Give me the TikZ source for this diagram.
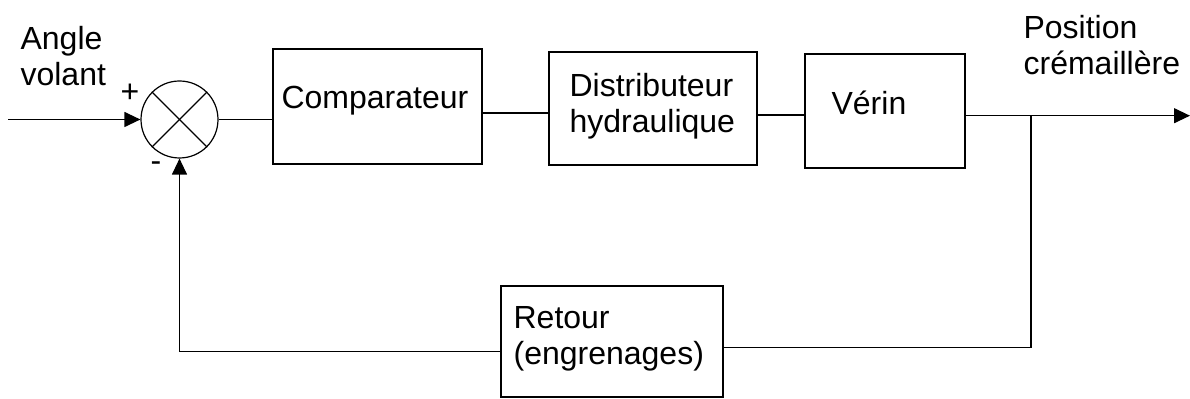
\documentclass[tikz,border=0pt]{standalone}
\usepackage{fontspec}
\setmainfont{Liberation Sans}
\usetikzlibrary{arrows.meta}
\begin{document}
\begin{tikzpicture}[x=0.5pt,y=-0.5pt,
  line width=0.6pt,
  every node/.style={font=\fontsize{16}{18.4}\selectfont},
  blockbox/.style={draw,rectangle,inner sep=0pt},
  txt/.style={anchor=base west,inner sep=0pt,align=left},
  arr/.style={-{Triangle[length=8pt,width=7.5pt]}}]
\useasboundingbox (0,0) rectangle (1190,399);
% summing junction
\node[draw,circle,minimum size=38.5pt,inner sep=0pt] (sum) at (179.5,119.5) {};
\draw (sum.north west) -- (sum.south east);
\draw (sum.north east) -- (sum.south west);
% blocks
\node[blockbox,minimum width=104.5pt,minimum height=57.5pt] (comp) at (377.5,106.5) {};
\node[blockbox,minimum width=104pt,minimum height=56.5pt] (dist) at (653,108.5) {};
\node[blockbox,minimum width=80pt,minimum height=57pt] (verin) at (885,111) {};
\node[blockbox,minimum width=111pt,minimum height=55.5pt] (ret) at (612,341.5) {};
% texts (base anchor = baseline of the last line)
\node[txt] (tangle) at (20,86) {Angle\\volant};
\node[inner sep=0pt] (tplus) at (130,93) {+};
\node[inner sep=0pt] (tminus) at (156,167) {-};
\node[txt] (tcomp) at (281,109) {Comparateur};
\node[txt] (tdist) at (569,133) {Distributeur\\hydraulique};
\node[txt] (tverin) at (831,115) {Vérin};
\node[txt] (tpos) at (1023,75) {Position\\crémaillère};
\node[txt] (tret) at (513,365) {Retour\\(engrenages)};
% connectors
\coordinate (in) at (8,119.5);
\coordinate (out) at (1190,115.7);
\coordinate (j) at (1031,115.7);
\draw[arr] (in) -- (sum.west);
\draw (sum.east) -- (sum.east -| comp.west);
\draw (comp.east |- 0,113) -- (dist.west |- 0,113);
\draw (dist.east |- 0,115) -- (verin.west |- 0,115);
\draw[arr] (verin.east |- out) -- (out);
\draw (j) |- (ret.east |- 0,347.5);
\draw[arr] (ret.west |- 0,351.5) -| (sum.south);
\end{tikzpicture}
\end{document}
